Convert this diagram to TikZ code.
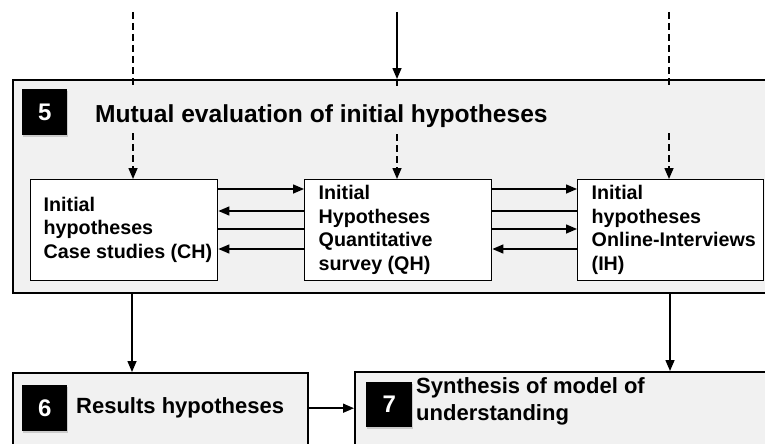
\documentclass[tikz,border=0pt]{standalone}
\usepackage{fontspec}
\setmainfont{Liberation Sans}
\usetikzlibrary{arrows.meta,shadows}
\definecolor{boxgray}{HTML}{F1F1F1}
\newcommand{\hyplines}[3]{\makebox[#1][l]{\hspace*{#2}\begin{tabular}{@{}l@{}}#3\end{tabular}}}
\begin{document}
\begin{tikzpicture}[x=1pt,y=-1pt,
  bigbox/.style={draw=black, line width=1.6pt, fill=boxgray, rectangle, inner sep=0pt, anchor=north west},
  hypbox/.style={draw=black, line width=1.4pt, fill=white, rectangle, inner sep=0pt,
     anchor=north west, minimum height=101pt,
     font=\fontsize{19.7}{23.5}\selectfont\bfseries},
  numbox/.style={fill=black, text=white, font=\fontsize{24}{24}\selectfont\bfseries, inner sep=0pt,
     anchor=north west, minimum width=45pt, minimum height=46pt,
     drop shadow={shadow xshift=1pt,shadow yshift=-1.5pt,fill=black!35}},
  arr/.style={line width=1.5pt, -{Triangle[length=11pt,width=9pt]}},
  plainline/.style={line width=1.5pt},
  dsh/.style={line width=1.2pt, dash pattern=on 7pt off 4pt},
  titletext/.style={inner sep=0pt, anchor=base west, font=\fontsize{24.6}{28}\selectfont\bfseries},
  steptext/.style={inner sep=0pt, align=left, font=\fontsize{22}{27}\selectfont\bfseries}]
\clip (0,0) rectangle (765,444);
\fill[white] (0,0) rectangle (765,444);
% big box 5
\node[bigbox, minimum width=780pt, minimum height=213pt] (B5) at (12,79) {};
% free ends on top
\coordinate (t1) at (133,12);
\coordinate (t2) at (397,12);
\coordinate (t3) at (669,12);
% hypothesis boxes
\node[hypbox] (CH) at (30,179) {\hyplines{187pt}{13pt}{Initial\\hypotheses\\Case studies (CH)}};
\node[hypbox] (QH) at (304,179) {\hyplines{187pt}{14pt}{Initial\\Hypotheses\\Quantitative\\survey (QH)}};
\node[hypbox] (IH) at (577,179) {\hyplines{186pt}{14pt}{Initial\\hypotheses\\Online-Interviews\\(IH)}};
% incoming lines
\draw[dsh, arr] (t1) -- (t1 |- CH.north);
\draw[dsh, arr] (t3) -- (t3 |- IH.north);
\draw[arr] (t2) -- (t2 |- B5.north);
\draw[dsh, arr] (t2 |- B5.north) -- (t2 |- QH.north);
% title band
\fill[boxgray] (15,88) rectangle (755,132);
\node[numbox] (N5) at (22,89) {5};
\node[titletext] (T5) at (95,122) {Mutual evaluation of initial hypotheses};
% arrows between CH and QH
\draw[arr] ([yshift=-10pt]CH.north east) -- ([yshift=-10pt]QH.north west);
\draw[arr] ([yshift=-32pt]QH.north west) -- ([yshift=-32pt]CH.north east);
\draw[plainline] ([yshift=-50pt]CH.north east) -- ([yshift=-50pt]QH.north west);
\draw[arr] ([yshift=-70pt]QH.north west) -- ([yshift=-70pt]CH.north east);
% arrows between QH and IH
\draw[arr] ([yshift=-10pt]QH.north east) -- ([yshift=-10pt]IH.north west);
\draw[plainline] ([yshift=-32pt]QH.north east) -- ([yshift=-32pt]IH.north west);
\draw[arr] ([yshift=-50pt]QH.north east) -- ([yshift=-50pt]IH.north west);
\draw[arr] ([yshift=-70pt]IH.north west) -- ([yshift=-70pt]QH.north east);
% bottom boxes
\node[bigbox, minimum width=295pt, minimum height=90pt] (B6) at (12,372) {};
\node[bigbox, minimum width=430pt, minimum height=90pt] (B7) at (354,371) {};
\node[numbox] (N6) at (22,385) {6};
\node[numbox, minimum width=46pt, minimum height=45pt] (N7) at (366,382) {7};
\node[steptext, anchor=base west] (T6) at (76,413) {Results hypotheses};
\node[steptext, anchor=north west] (T7) at (416,377) {Synthesis of model of\\understanding};
% bottom arrows
\coordinate (b1) at (132,0);
\coordinate (b2) at (670,0);
\draw[arr] (b1 |- B5.south) -- (b1 |- B6.north);
\draw[arr] (b2 |- B5.south) -- (b2 |- B7.north);
\draw[arr] (B6.east |- N6.center) -- (B7.west |- N6.center);
\end{tikzpicture}
\end{document}
